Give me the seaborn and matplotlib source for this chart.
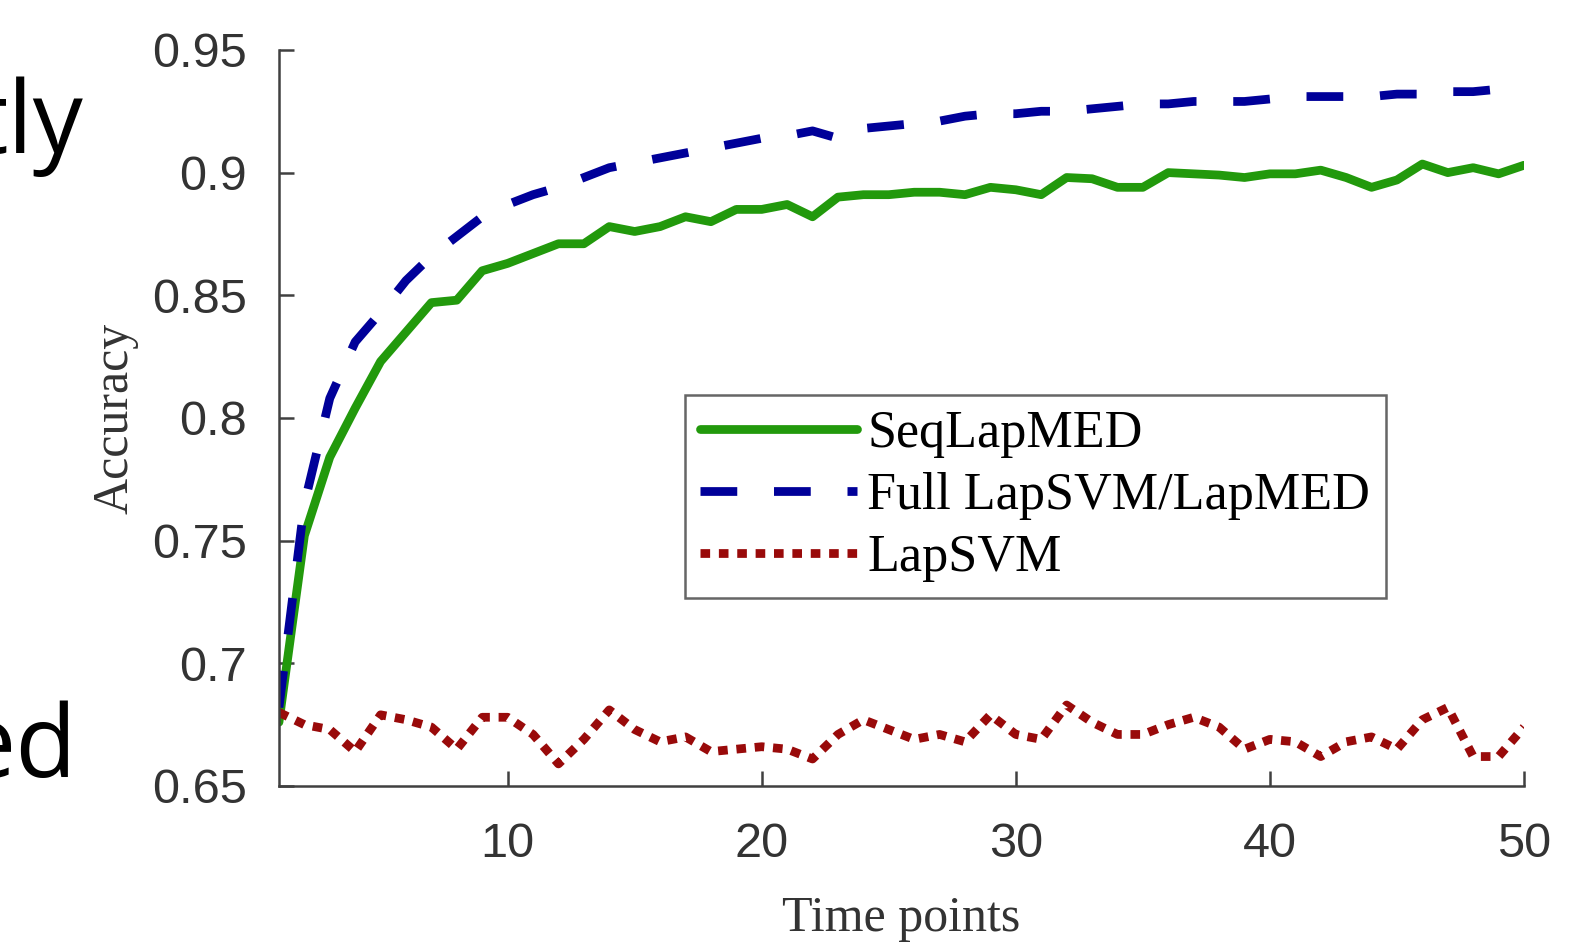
import numpy as np
import pandas as pd
import seaborn as sns
import matplotlib.pyplot as plt
from matplotlib.ticker import FuncFormatter

# --- data ---
time_points = list(range(1, 51))

seq_lapmed = [0.676, 0.752, 0.784, 0.804, 0.823, 0.835, 0.847, 0.848, 0.860, 0.863,
              0.867, 0.871, 0.871, 0.878, 0.876, 0.878, 0.882, 0.880, 0.885, 0.885,
              0.887, 0.882, 0.890, 0.891, 0.891, 0.892, 0.892, 0.891, 0.894, 0.893,
              0.891, 0.898, 0.8975, 0.894, 0.894, 0.900, 0.8995, 0.899, 0.898, 0.8995,
              0.8995, 0.901, 0.898, 0.894, 0.897, 0.9035, 0.900, 0.902, 0.8995, 0.903]

full_lapsvm = [0.682, 0.765, 0.808, 0.831, 0.843, 0.856, 0.866, 0.874, 0.882, 0.887,
               0.891, 0.894, 0.898, 0.902, 0.904, 0.906, 0.908, 0.910, 0.912, 0.914,
               0.915, 0.917, 0.914, 0.918, 0.919, 0.920, 0.921, 0.923, 0.924, 0.924,
               0.925, 0.925, 0.926, 0.927, 0.928, 0.928, 0.929, 0.929, 0.929, 0.930,
               0.931, 0.931, 0.931, 0.931, 0.932, 0.932, 0.933, 0.933, 0.934, 0.935]

lapsvm = [0.680, 0.675, 0.673, 0.664, 0.679, 0.677, 0.674, 0.665, 0.678, 0.678,
          0.671, 0.659, 0.669, 0.681, 0.673, 0.668, 0.670, 0.664, 0.665, 0.666,
          0.665, 0.661, 0.671, 0.677, 0.673, 0.669, 0.671, 0.668, 0.679, 0.671,
          0.669, 0.683, 0.676, 0.671, 0.671, 0.675, 0.678, 0.674, 0.665, 0.669,
          0.668, 0.662, 0.668, 0.670, 0.665, 0.677, 0.682, 0.662, 0.662, 0.674]

methods = ["SeqLapMED", "Full LapSVM/LapMED", "LapSVM"]
y_ticks = [0.65, 0.7, 0.75, 0.8, 0.85, 0.9, 0.95]
x_ticks = [10, 20, 30, 40, 50]

df = pd.DataFrame({
    "Time points": time_points * 3,
    "Accuracy": seq_lapmed + full_lapsvm + lapsvm,
    "method": [m for m in methods for _ in time_points],
})

# --- style ---
sns.set_style("ticks")
plt.rcParams["font.family"] = ["Liberation Serif", "DejaVu Serif"]

palette = {"SeqLapMED": "#22990c", "Full LapSVM/LapMED": "#000099", "LapSVM": "#990a0a"}
dashes = {"SeqLapMED": "", "Full LapSVM/LapMED": (4.2, 4.2), "LapSVM": (1.1, 1.0)}

fig = plt.figure(figsize=(15.76, 9.44), dpi=100)
ax = fig.add_axes([0.177, 0.1674, 0.790, 0.7797])

sns.lineplot(data=df, x="Time points", y="Accuracy", hue="method", style="method",
             hue_order=methods, style_order=methods, palette=palette, dashes=dashes,
             linewidth=6.3, ax=ax, legend=False)

ax.set_xlim(1, 50)
ax.set_ylim(0.65, 0.95)
ax.set_xticks(x_ticks)
ax.set_yticks(y_ticks)
ax.yaxis.set_major_formatter(FuncFormatter(lambda v, p: f"{v:g}"))

for s in ["top", "right"]:
    ax.spines[s].set_visible(False)
for s in ["left", "bottom"]:
    ax.spines[s].set_color("#404040")
    ax.spines[s].set_linewidth(1.8)

ax.tick_params(direction="in", length=11, width=1.8, color="#404040",
               labelsize=35, labelcolor="#333333", pad=23)
ax.tick_params(axis="x", pad=26)
for lab in ax.get_xticklabels() + ax.get_yticklabels():
    lab.set_fontfamily(["Liberation Sans", "DejaVu Sans"])

ax.set_xlabel("Time points", fontsize=36, color="#333333")
ax.set_ylabel("Accuracy", fontsize=36, color="#333333")
ax.xaxis.set_label_coords(0.5, -0.149)
ax.yaxis.set_label_coords(-0.113, 0.5)

leg = ax.legend(handles=ax.lines[:3], labels=methods, loc="lower left",
                bbox_to_anchor=(0.326, 0.2555), borderaxespad=0, fontsize=37.5,
                frameon=True, fancybox=False, handlelength=3.0, handletextpad=0.2,
                labelspacing=0.27, borderpad=0.3)
leg.get_frame().set_edgecolor("#404040")
leg.get_frame().set_linewidth(1.8)
for t in leg.get_texts():
    t.set_color("black")

# cropped slide text at the left edge
fig.text(83 / 1576, 1 - 153 / 944, "tly", fontsize=72, ha="right", va="baseline",
         family=["Open Sans", "DejaVu Sans"], color="black")
fig.text(77 / 1576, 1 - 777 / 944, "ed", fontsize=72, ha="right", va="baseline",
         family=["Open Sans", "DejaVu Sans"], color="black")

plt.savefig("out.png", dpi=100)
